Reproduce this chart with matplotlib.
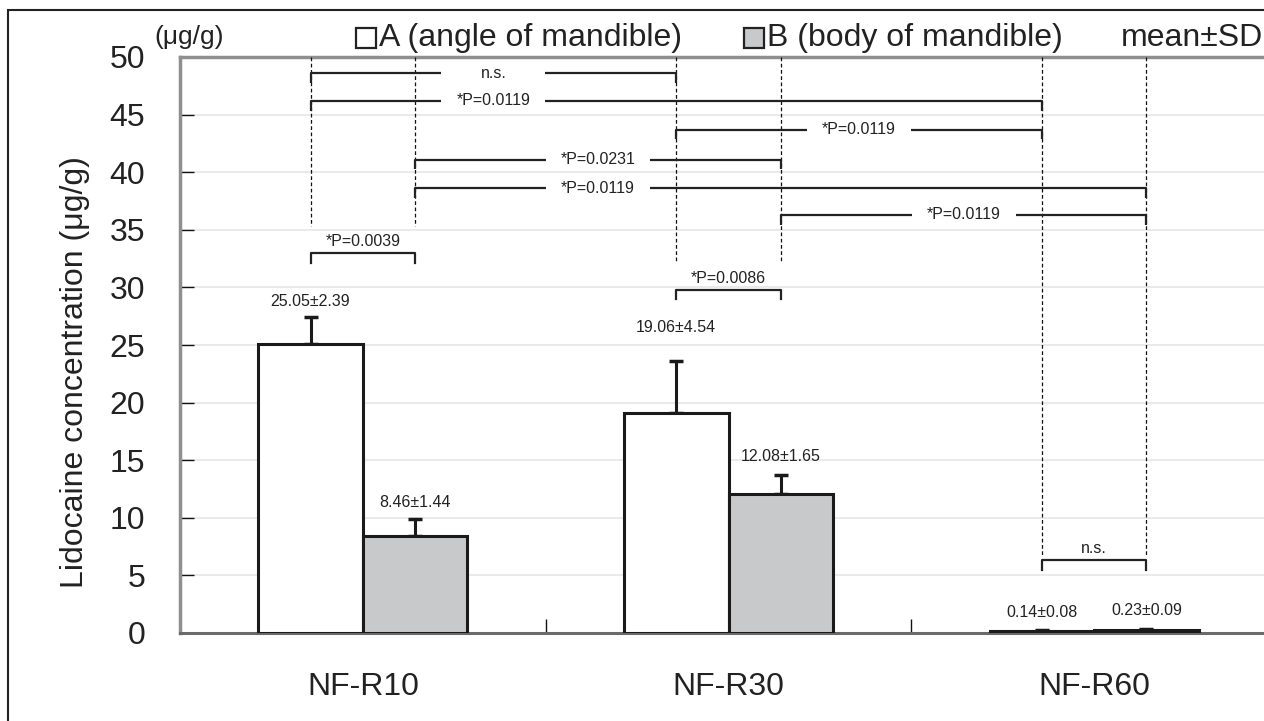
import matplotlib
matplotlib.use('Agg')
import matplotlib.pyplot as plt
from matplotlib.patches import Rectangle

plt.rcParams['font.family'] = ['Liberation Sans', 'DejaVu Sans']

# ---------------- data ----------------
groups = ['NF-R10', 'NF-R30', 'NF-R60']
mean_a = [25.05, 19.06, 0.14]
sd_a = [2.39, 4.54, 0.08]
mean_b = [8.46, 12.08, 0.23]
sd_b = [1.44, 1.65, 0.09]
series_labels = ['A (angle of mandible)', 'B (body of mandible)']
y_ticks = list(range(0, 51, 5))

# comparisons between bars: (group, series) pairs, series 0 = A, 1 = B
long_pairs = [((0, 0), (1, 0)), ((0, 0), (2, 0)), ((1, 0), (2, 0)),
              ((0, 1), (1, 1)), ((0, 1), (2, 1)), ((1, 1), (2, 1))]
long_texts = ['n.s.', '*P=0.0119', '*P=0.0119', '*P=0.0231', '*P=0.0119', '*P=0.0119']
short_pairs = [((0, 0), (0, 1)), ((1, 0), (1, 1)), ((2, 0), (2, 1))]
short_texts = ['*P=0.0039', '*P=0.0086', 'n.s.']

# ---------------- layout ----------------
W, H = 1264, 721
fig = plt.figure(figsize=(W / 100, H / 100), dpi=100)
ax = fig.add_axes([180 / W, 1 - 633 / H, 1097 / W, (633 - 57) / H])

bw = 0.286
colors = ['white', '#c8c9cb']
edge = '#1a1a1a'

def xpos(g, s):
    return g + (-bw / 2 if s == 0 else bw / 2)

xa = [xpos(i, 0) for i in range(len(groups))]
xb = [xpos(i, 1) for i in range(len(groups))]

ax.bar(xa, mean_a, width=bw, color=colors[0], edgecolor=edge, linewidth=2.2, zorder=3)
ax.bar(xb, mean_b, width=bw, color=colors[1], edgecolor=edge, linewidth=2.2, zorder=3)
ax.errorbar(xa, mean_a, yerr=[[0] * 3, sd_a], fmt='none', ecolor=edge,
            elinewidth=2.2, capsize=5, capthick=2.5, zorder=2)
ax.errorbar(xb, mean_b, yerr=[[0] * 3, sd_b], fmt='none', ecolor=edge,
            elinewidth=2.2, capsize=5, capthick=2.5, zorder=2)

# value labels
label_off_a = [1.3, 2.9, 1.6]
label_off_b = [1.4, 1.6, 1.6]
for i in range(len(groups)):
    ax.text(xa[i], mean_a[i] + sd_a[i] + label_off_a[i], f'{mean_a[i]:.2f}±{sd_a[i]:.2f}',
            ha='center', va='center', fontsize=11.5, color='#222222', zorder=5)
    ax.text(xb[i], mean_b[i] + sd_b[i] + label_off_b[i], f'{mean_b[i]:.2f}±{sd_b[i]:.2f}',
            ha='center', va='center', fontsize=11.5, color='#222222', zorder=5)

ax.set_xlim(-0.5, 2.5)
ax.set_ylim(0, 50)

# dashed guide lines
guide_end = [35.3, 32.1, 6.8]
for g in range(len(groups)):
    for s in range(2):
        ax.plot([xpos(g, s)] * 2, [50, guide_end[g]], color='#111111', lw=0.9,
                ls=(0, (3, 2)), zorder=4)

lc = '#222222'
tick_len = 0.85
gap = 0.142
long_levels = [48.6, 46.2, 43.7, 41.1, 38.6, 36.3]
text_ref = [0, 0, 2, 3, 3, 5]
for k, ((g1, s1), (g2, s2)) in enumerate(long_pairs):
    x1, x2 = xpos(g1, s1), xpos(g2, s2)
    y = long_levels[k]
    r1, r2 = long_pairs[text_ref[k]]
    tx = (xpos(*r1) + xpos(*r2)) / 2
    ax.plot([x1, x1, tx - gap], [y - tick_len, y, y], color=lc, lw=1.6, zorder=5,
            solid_capstyle='butt')
    ax.plot([tx + gap, x2, x2], [y, y, y - tick_len], color=lc, lw=1.6, zorder=5,
            solid_capstyle='butt')
    ax.text(tx, y, long_texts[k], ha='center', va='center', fontsize=11.5,
            color='#222222', zorder=6)

short_levels = [33.0, 29.8, 6.3]
for k, ((g1, s1), (g2, s2)) in enumerate(short_pairs):
    x1, x2 = xpos(g1, s1), xpos(g2, s2)
    y = short_levels[k]
    ax.plot([x1, x1, x2, x2], [y - tick_len, y, y, y - tick_len], color=lc, lw=1.6,
            zorder=5)
    ax.text((x1 + x2) / 2, y + 1.0, short_texts[k], ha='center', va='center',
            fontsize=11.5, color='#222222', zorder=6)

# axes styling
ax.set_yticks(y_ticks)
ax.set_yticklabels([str(t) for t in y_ticks], fontsize=23, color='#222222')
ax.tick_params(axis='y', direction='in', length=10, width=1, color='#111111', pad=25)
ax.set_xticks(range(len(groups)))
ax.set_xticklabels(groups, fontsize=23, color='#222222')
ax.tick_params(axis='x', which='major', length=0, pad=28)
ax.set_xticks([0.5, 1.5], minor=True)
ax.tick_params(axis='x', which='minor', direction='in', length=10, width=1, color='#111111')
ax.grid(axis='y', color='#e6e6e6', lw=1.2, zorder=0)
ax.set_axisbelow(True)
for side in ['left', 'top', 'right']:
    ax.spines[side].set_color('#8f8f8f')
    ax.spines[side].set_linewidth(2.5)
ax.spines['bottom'].set_color('#6a6a6a')
ax.spines['bottom'].set_linewidth(2.2)

fig.text(75 / W, 1 - 372 / H, 'Lidocaine concentration (μg/g)', rotation=90,
         ha='center', va='center', fontsize=23, color='#222222')
fig.text(154 / W, 1 - 37 / H, '(μg/g)', ha='left', va='center', fontsize=19, color='#222222')

# legend
sq = 20
for (x0, lab, col) in [(356, series_labels[0], colors[0]), (744, series_labels[1], colors[1])]:
    fig.patches.append(Rectangle((x0 / W, 1 - 48 / H), sq / W, sq / H, transform=fig.transFigure,
                                 facecolor=col, edgecolor='#222222', lw=1.6))
    fig.text((x0 + sq + 3) / W, 1 - 38 / H, lab, ha='left', va='center', fontsize=23,
             color='#222222')
fig.text(1263 / W, 1 - 38 / H, 'mean±SD', ha='right', va='center', fontsize=23, color='#222222')

# outer frame
fig.patches.append(Rectangle((8 / W, -0.2), 1.3, 1.2 - 10 / H, transform=fig.transFigure,
                             facecolor='none', edgecolor='#222222', lw=1.5))

fig.savefig('out.png', dpi=100)
